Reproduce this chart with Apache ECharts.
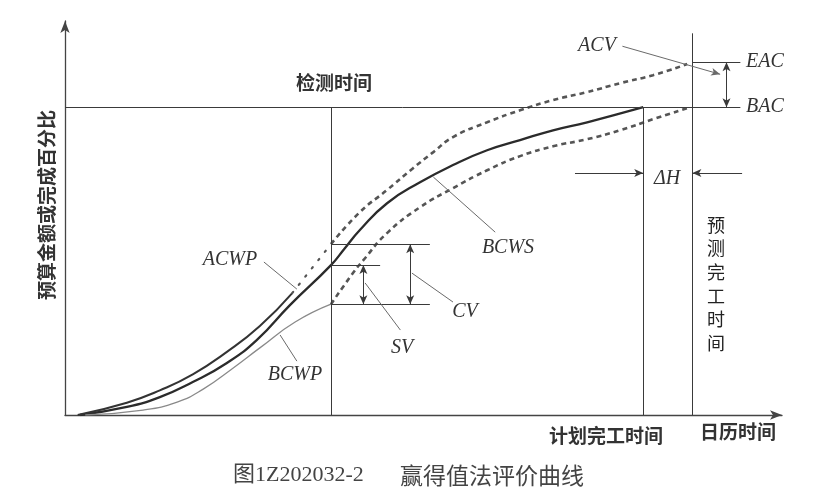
<!DOCTYPE html>
<html>
<head>
<meta charset="utf-8">
<script src="https://cdn.jsdelivr.net/npm/echarts@6/dist/echarts.min.js"></script>
<style>html,body{margin:0;padding:0;background:#fff}#c{width:824px;height:501px}</style>
</head>
<body>
<div id="c"></div>
<script>
// ---- data (time units: planned completion = 100; value units: BAC = 100) ----
const BCWS_T = [2.6, 10.7, 16.4, 22.1, 28.0, 33.2, 38.9, 46.0, 48.4, 51.0, 55.7, 61.4, 67.1, 73.0, 78.7, 84.4, 90.3, 100.0];
const BCWS_P = [0, 2.6, 5.8, 10.7, 16.9, 24.4, 35.7, 48.7, 54.2, 60.1, 68.8, 75.6, 81.2, 86.0, 89.3, 92.5, 95.1, 100.0];

const ACWP_T = [2.2, 10.7, 16.4, 22.1, 28.0, 33.7, 39.3];
const ACWP_P = [0, 4.0, 8.0, 13.2, 20.5, 28.9, 39.6];
const ACWP_GAP_T = [39.3, 46.0];
const ACWP_GAP_P = [39.6, 55.5];
const ACWP_FC_T = [46.0, 51.0, 55.7, 60.2, 63.7, 67.1, 73.0, 78.7, 84.4, 90.3, 96.0, 101.7, 107.6];
const ACWP_FC_P = [55.5, 65.9, 73.1, 80.2, 85.4, 90.3, 95.1, 99.0, 102.3, 104.9, 107.8, 110.4, 114.0];

const BCWP_T = [3.5, 13.5, 19.4, 23.9, 29.1, 33.7, 39.8, 46.0];
const BCWP_P = [0, 1.6, 4.2, 8.4, 15.3, 21.8, 30.2, 36.0];
const BCWP_FC_T = [46.0, 49.8, 51.6, 55.7, 61.4, 67.1, 73.0, 78.7, 84.4, 90.3, 96.0, 101.7, 108.1];
const BCWP_FC_P = [36.0, 46.1, 50.3, 59.1, 67.5, 73.7, 79.5, 84.1, 87.3, 89.6, 92.5, 96.1, 100.0];

const DETECT_T = 46.0, PLAN_T = 100, FORECAST_T = 108.5;
const BAC = 100, EAC = 114.6;
const ACWP_AT = 55.5, BCWS_AT = 48.7, BCWP_AT = 36.0;

const TEXTS = {
  detect: '检测时间', plan: '计划完工时间', cal: '日历时间', yname: '预算金额或完成百分比',
  forecast: '预测完工时间', cap1: '图1Z202032-2', cap2: '赢得值法评价曲线',
  acv: 'ACV', eac: 'EAC', bac: 'BAC', dh: 'ΔH', bcws: 'BCWS', acwp: 'ACWP', bcwp: 'BCWP', sv: 'SV', cv: 'CV'
};

const zip = (a, b) => a.map((v, i) => [v, b[i]]);

function seg(x1, y1, x2, y2, color, width, s1, s2) {
  return [
    { coord: [x1, y1], symbol: s1 || 'none', lineStyle: { color: color, width: width, type: 'solid' } },
    { coord: [x2, y2], symbol: s2 || 'none' }
  ];
}

const REF = '#3a3a3a', LEAD = '#6a6a6a';
const segments = [
  seg(0, BAC, 116.8, BAC, REF, 1),
  seg(FORECAST_T, EAC, 116.8, EAC, REF, 1),
  seg(DETECT_T, 0, DETECT_T, BAC, REF, 1),
  seg(PLAN_T, 0, PLAN_T, BAC, REF, 1),
  seg(FORECAST_T, 0, FORECAST_T, 124, REF, 1),
  seg(DETECT_T, ACWP_AT, 63.1, ACWP_AT, REF, 1),
  seg(DETECT_T, BCWP_AT, 63.1, BCWP_AT, REF, 1),
  seg(DETECT_T, BCWS_AT, 54.5, BCWS_AT, REF, 1),
  seg(34.4, 49.7, 40.1, 40.9, LEAD, 1),
  seg(63.7, 77.3, 74.4, 59.4, LEAD, 1),
  seg(37.2, 26.0, 40.1, 17.5, LEAD, 1),
  seg(51.9, 42.9, 58.0, 27.6, LEAD, 1),
  seg(60.0, 46.1, 67.1, 36.7, LEAD, 1)
];
const arrows = [
  seg(96.4, 119.8, 113.3, 110.7, LEAD, 1, 'none', 'arrow'),
  seg(114.4, EAC, 114.4, BAC, REF, 1, 'arrow', 'arrow'),
  seg(51.6, BCWS_AT, 51.6, BCWP_AT, REF, 1, 'arrow', 'arrow'),
  seg(59.7, ACWP_AT, 59.7, BCWP_AT, REF, 1, 'arrow', 'arrow'),
  seg(88.2, 78.6, PLAN_T, 78.6, REF, 1, 'none', 'arrow'),
  seg(117.1, 78.6, FORECAST_T, 78.6, REF, 1, 'none', 'arrow')
];

const chart = echarts.init(document.getElementById('c'), null, { renderer: 'canvas' });

const CJK = "'Noto Sans CJK SC', sans-serif";
const SERIF = "'Liberation Serif', 'DejaVu Serif', serif";
function txt(t, x, y, o) {
  return { type: 'text', x: x, y: y, silent: true, rotation: (o && o.rot) || 0,
    style: Object.assign({ text: t, fill: '#333', fontFamily: CJK, fontSize: 19, fontWeight: 'bold',
      align: 'center', verticalAlign: 'middle' }, (o && o.s) || {}) };
}
function it(t, x, y) {
  return txt(t, x, y, { s: { fontFamily: SERIF, fontStyle: 'italic', fontWeight: 'normal', fontSize: 20, fill: '#333' } });
}

const axisCommon = {
  type: 'value', axisTick: { show: false }, axisLabel: { show: false }, splitLine: { show: false },
  axisLine: { show: true, symbol: ['none', 'arrow'], symbolSize: [7, 12], lineStyle: { color: '#444', width: 1.3 } }
};

const curve = (data, color, width, type) => ({
  type: 'line', data: data, smooth: 0.5, symbol: 'none', silent: true,
  lineStyle: { color: color, width: width, type: type || 'solid' }
});

chart.setOption({
  animation: false,
  backgroundColor: '#fff',
  grid: { left: 65, right: 42, top: 21, bottom: 86 },
  xAxis: Object.assign({}, axisCommon, { min: 0, max: 124 }),
  yAxis: Object.assign({}, axisCommon, { min: 0, max: 128 }),
  series: [
    Object.assign(curve(zip(BCWS_T, BCWS_P), '#2b2b2b', 2.3), { name: 'BCWS' }),
    Object.assign(curve(zip(ACWP_T, ACWP_P), '#333', 2), { name: 'ACWP' }),
    { name: 'ACWPgap', type: 'line', data: zip(ACWP_GAP_T, ACWP_GAP_P), symbol: 'none', silent: true,
      lineStyle: { color: '#555', width: 2.2, type: [1.5, 9], cap: 'round' } },
    Object.assign(curve(zip(ACWP_FC_T, ACWP_FC_P), '#555', 2.6, [5, 4]), { name: 'ACWPfc' }),
    Object.assign(curve(zip(BCWP_T, BCWP_P), '#8a8a8a', 1.3), { name: 'BCWP' }),
    Object.assign(curve(zip(BCWP_FC_T, BCWP_FC_P), '#555', 2.6, [5, 4]), { name: 'BCWPfc' }),
    { name: 'refs', type: 'line', data: [], symbol: 'none', silent: true,
      markLine: { silent: true, animation: false, symbol: 'none', label: { show: false },
        emphasis: { disabled: true }, data: segments } },
    { name: 'arrows', type: 'line', data: [], symbol: 'none', silent: true,
      markLine: { silent: true, animation: false, symbolSize: [6, 9], label: { show: false },
        emphasis: { disabled: true }, data: arrows } }
  ],
  graphic: [
    txt(TEXTS.detect, 334, 83),
    txt(TEXTS.plan, 606, 436),
    txt(TEXTS.cal, 738, 432),
    txt(TEXTS.yname, 47, 205, { rot: Math.PI / 2 }),
    txt(TEXTS.forecast.split('').join('\n'), 716, 284, { s: { fontWeight: 'normal', fontSize: 18, lineHeight: 23.6, fill: '#222' } }),
    txt(TEXTS.cap1, 233, 475, { s: { align: 'left', fontFamily: SERIF + ", 'Noto Sans CJK SC'", fontWeight: 'normal', fontSize: 22, fill: '#444' } }),
    txt(TEXTS.cap2, 400, 475, { s: { align: 'left', fontWeight: 'normal', fontSize: 23, fill: '#444' } }),
    it(TEXTS.acv, 597, 46),
    it(TEXTS.eac, 765, 62),
    it(TEXTS.bac, 765, 107),
    it(TEXTS.dh, 667, 179),
    it(TEXTS.bcws, 508, 248),
    it(TEXTS.acwp, 230, 260),
    it(TEXTS.bcwp, 295, 375),
    it(TEXTS.sv, 402, 348),
    it(TEXTS.cv, 465, 312)
  ]
});
</script>
</body>
</html>
